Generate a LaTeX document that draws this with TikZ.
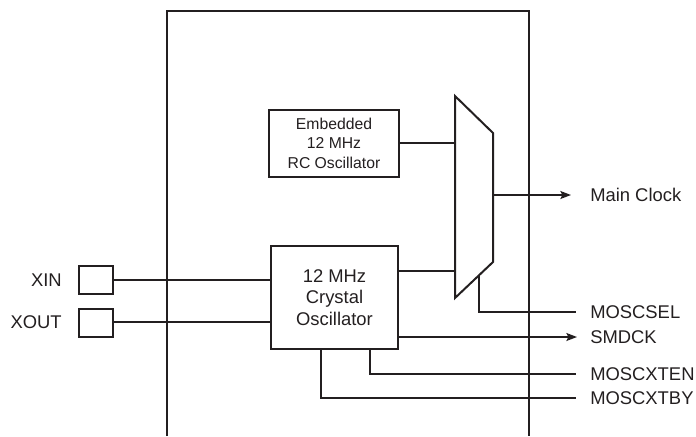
\documentclass[tikz,border=0pt]{standalone}
\usepackage{fontspec}
\setmainfont{Liberation Sans}
\usetikzlibrary{arrows.meta}
\definecolor{ink}{HTML}{231F20}
\begin{document}
\begin{tikzpicture}[x=0.75pt,y=-0.75pt,color=ink,
  frame/.style={line width=2pt},
  blockbox/.style={draw,line width=1.5pt,inner sep=0pt,align=center},
  padbox/.style={draw,line width=1.5pt,inner sep=0pt,minimum width=25.5pt,minimum height=21pt},
  wire/.style={line width=1.1pt},
  sig/.style={wire,-{Stealth[length=8pt,width=6pt,inset=1.5pt]}},
  lbl/.style={font=\fontsize{13.8pt}{16pt}\selectfont,inner sep=0pt},
]
\useasboundingbox (0,0) rectangle (696,436);
% chip outline
\draw[frame] (167,436) -- (167,11) -- (529,11) -- (529,436);
% blocks
\node[blockbox,minimum width=97.5pt,minimum height=50.25pt,
      font=\fontsize{11.8pt}{14.6pt}\selectfont] (rc) at (334,143)
      {Embedded\\12 MHz\\RC Oscillator};
\node[blockbox,minimum width=95.25pt,minimum height=77.25pt,
      font=\fontsize{13.8pt}{16.2pt}\selectfont] (xtal) at (334.5,297.5)
      {12 MHz\\Crystal\\Oscillator};
% multiplexer
\coordinate (m1) at (455,96);
\coordinate (m2) at (493,133);
\coordinate (m3) at (493,262);
\coordinate (m4) at (455,298);
\draw[line width=1.5pt] (m1) -- (m2) -- (m3) -- (m4) -- cycle;
% pads
\node[padbox] (xinpad) at (96,279.5) {};
\node[padbox] (xoutpad) at (96,323) {};
\node[lbl,anchor=east] (xinlbl) at (62,280) {XIN};
\node[lbl,anchor=east] (xoutlbl) at (62,322) {XOUT};
% output labels
\node[lbl,anchor=west] (mclbl) at (590,195) {Main Clock};
\node[lbl,anchor=west] (sellbl) at (590,312) {MOSCSEL};
\node[lbl,anchor=west] (smdlbl) at (590,337) {SMDCK};
\node[lbl,anchor=west] (enlbl) at (590,374) {MOSCXTEN};
\node[lbl,anchor=west] (bylbl) at (590,398) {MOSCXTBY};
% helper coordinates
\coordinate (muxin1) at (455,143);
\coordinate (muxin2) at (455,271);
\coordinate (muxout) at (493,195);
\coordinate (mcend) at (571,195);
\coordinate (selmux) at (479,275.3);
\coordinate (selbend) at (479,312);
\coordinate (selend) at (576,312);
\coordinate (smdstart) at (398,337);
\coordinate (smdend) at (577,337);
\coordinate (enstart) at (370,349);
\coordinate (enbend) at (370,374);
\coordinate (enend) at (576,374);
\coordinate (bystart) at (321,349);
\coordinate (bybend) at (321,398);
\coordinate (byend) at (576,398);
\coordinate (xtalin1) at (271,280);
\coordinate (xtalin2) at (271,322);
% connectors
\draw[wire] (rc.east) -- (muxin1);
\draw[wire] (xtal.east |- muxin2) -- (muxin2);
\draw[sig] (muxout) -- (mcend);
\draw[wire] (selmux) -- (selbend) -- (selend);
\draw[sig] (xtal.east |- smdstart) -- (smdend);
\draw[wire] (xtal.south -| enstart) -- (enbend) -- (enend);
\draw[wire] (xtal.south -| bystart) -- (bybend) -- (byend);
\draw[wire] (xinpad.east |- xtalin1) -- (xtal.west |- xtalin1);
\draw[wire] (xoutpad.east |- xtalin2) -- (xtal.west |- xtalin2);
\end{tikzpicture}
\end{document}
